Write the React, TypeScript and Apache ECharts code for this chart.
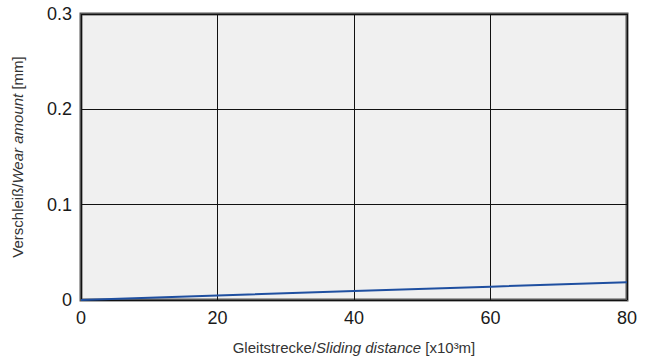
import React, { useEffect, useRef } from "react";
import * as echarts from "echarts";

const xTicks = [0, 20, 40, 60, 80];
const yTicks = [0, 0.1, 0.2, 0.3];
const distance = [0, 20, 40, 60, 80];
const wear = [0, 0.0047, 0.0094, 0.014, 0.0186];

const FONT = "'Liberation Sans Narrow', 'Liberation Sans', Arial, sans-serif";

export default function App() {
  const ref = useRef<HTMLDivElement>(null);
  useEffect(() => {
    const chart = echarts.init(ref.current!, null, { renderer: "svg" });
    chart.setOption({
      animation: false,
      grid: {
        left: 81,
        right: 24,
        top: 14,
        bottom: 58,
        show: true,
        backgroundColor: "#f0f0f0",
        borderColor: "#555",
        borderWidth: 3,
      },
      xAxis: {
        type: "value",
        min: xTicks[0],
        max: xTicks[xTicks.length - 1],
        interval: 20,
        axisLine: { show: false },
        axisTick: { show: false },
        splitLine: { show: true, lineStyle: { color: "#111", width: 1 } },
        axisLabel: { color: "#1a1a1a", fontSize: 18, fontFamily: FONT, margin: 9 },
        name: "{n|Gleitstrecke/}{i|Sliding distance}{n| [x10³m]}",
        nameLocation: "middle",
        nameGap: 40,
        nameTextStyle: {
          rich: {
            n: { fontSize: 15, fontFamily: FONT, color: "#333" },
            i: { fontSize: 15, fontFamily: FONT, color: "#333", fontStyle: "italic" },
          },
        },
      },
      yAxis: {
        type: "value",
        min: yTicks[0],
        max: yTicks[yTicks.length - 1],
        interval: 0.1,
        axisLine: { show: false },
        axisTick: { show: false },
        splitLine: { show: true, lineStyle: { color: "#111", width: 1 } },
        axisLabel: {
          color: "#1a1a1a",
          fontSize: 18,
          fontFamily: FONT,
          margin: 9,
          formatter: (v: number) => (v === 0 ? "0" : v.toFixed(1)),
        },
        name: "{n|Verschleiß/}{i|Wear amount}{n| [mm]}",
        nameLocation: "middle",
        nameGap: 56,
        nameTextStyle: {
          rich: {
            n: { fontSize: 15, fontFamily: FONT, color: "#333" },
            i: { fontSize: 15, fontFamily: FONT, color: "#333", fontStyle: "italic" },
          },
        },
      },
      series: [
        {
          type: "line",
          data: distance.map((d, i) => [d, wear[i]]),
          showSymbol: false,
          lineStyle: { color: "#1f4fa0", width: 2 },
          z: 5,
        },
      ],
    });
    return () => chart.dispose();
  }, []);
  return (
    <div
      ref={ref}
      style={{ position: "fixed", left: 0, top: 0, width: 651, height: 360, background: "#fff" }}
    />
  );
}
